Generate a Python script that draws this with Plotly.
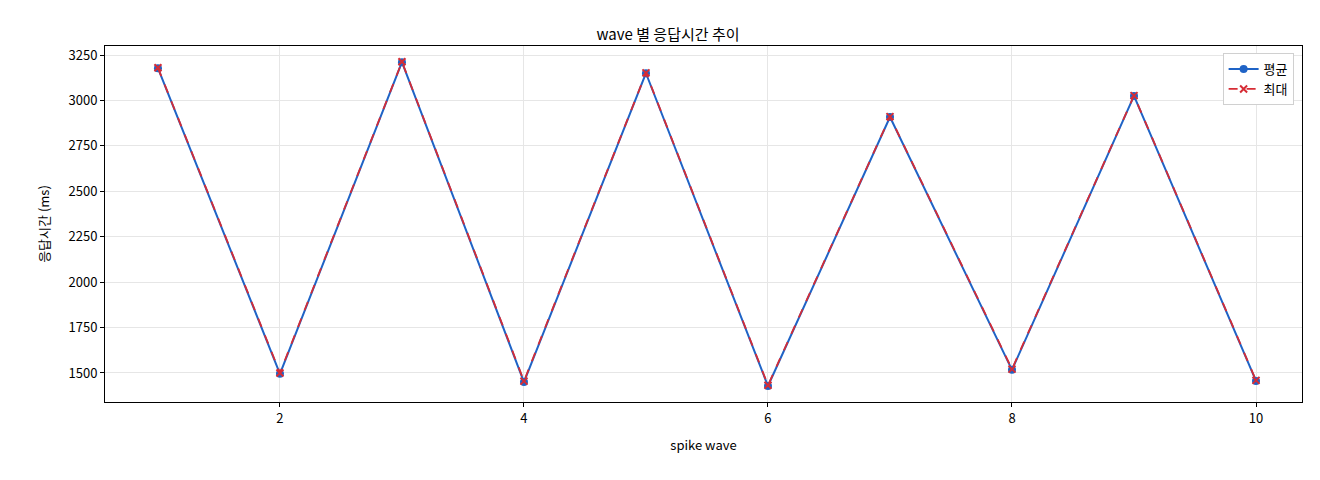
import plotly.graph_objects as go

waves = [1, 2, 3, 4, 5, 6, 7, 8, 9, 10]
avg_ms = [3178, 1495, 3211, 1450, 3150, 1428, 2909, 1517, 3025, 1456]
max_ms = [3180, 1500, 3213, 1455, 3152, 1432, 2911, 1521, 3027, 1459]

font = "Noto Sans CJK KR, DejaVu Sans, sans-serif"

fig = go.Figure()
fig.add_trace(go.Scatter(x=waves, y=avg_ms, name="평균", mode="lines+markers",
                         line=dict(color="#1f63c6", width=2),
                         marker=dict(symbol="circle", size=8, color="#1f63c6")))
fig.add_trace(go.Scatter(x=waves, y=max_ms, name="최대", mode="lines+markers",
                         line=dict(color="#d62c35", width=1.8, dash="dash"),
                         marker=dict(symbol="x-thin", size=7,
                                     line=dict(color="#d62c35", width=2))))

axis = dict(showline=True, linecolor="black", mirror=True, ticks="outside",
            ticklen=4, tickcolor="black", gridcolor="#e6e6e6", zeroline=False,
            tickfont=dict(size=13, color="black"))

fig.update_layout(
    width=1320, height=480,
    margin=dict(l=97, r=26, t=38, b=86),
    plot_bgcolor="white", paper_bgcolor="white",
    font=dict(family=font, color="black", size=13),
    title=dict(text="wave 별 응답시간 추이", x=0.5, y=0.955, font=dict(size=15)),
    xaxis=dict(axis, range=[0.566, 10.377], tickvals=[2, 4, 6, 8, 10],
               title=dict(text="spike wave", font=dict(size=13))),
    yaxis=dict(axis, range=[1340, 3300], dtick=250,
               title=dict(text="응답시간 (ms)", font=dict(size=13))),
    legend=dict(x=0.993, y=0.98, xanchor="right", yanchor="top",
                bordercolor="#d0d0d0", borderwidth=1, bgcolor="white",
                font=dict(size=13)),
)

fig.write_html("out.html")
